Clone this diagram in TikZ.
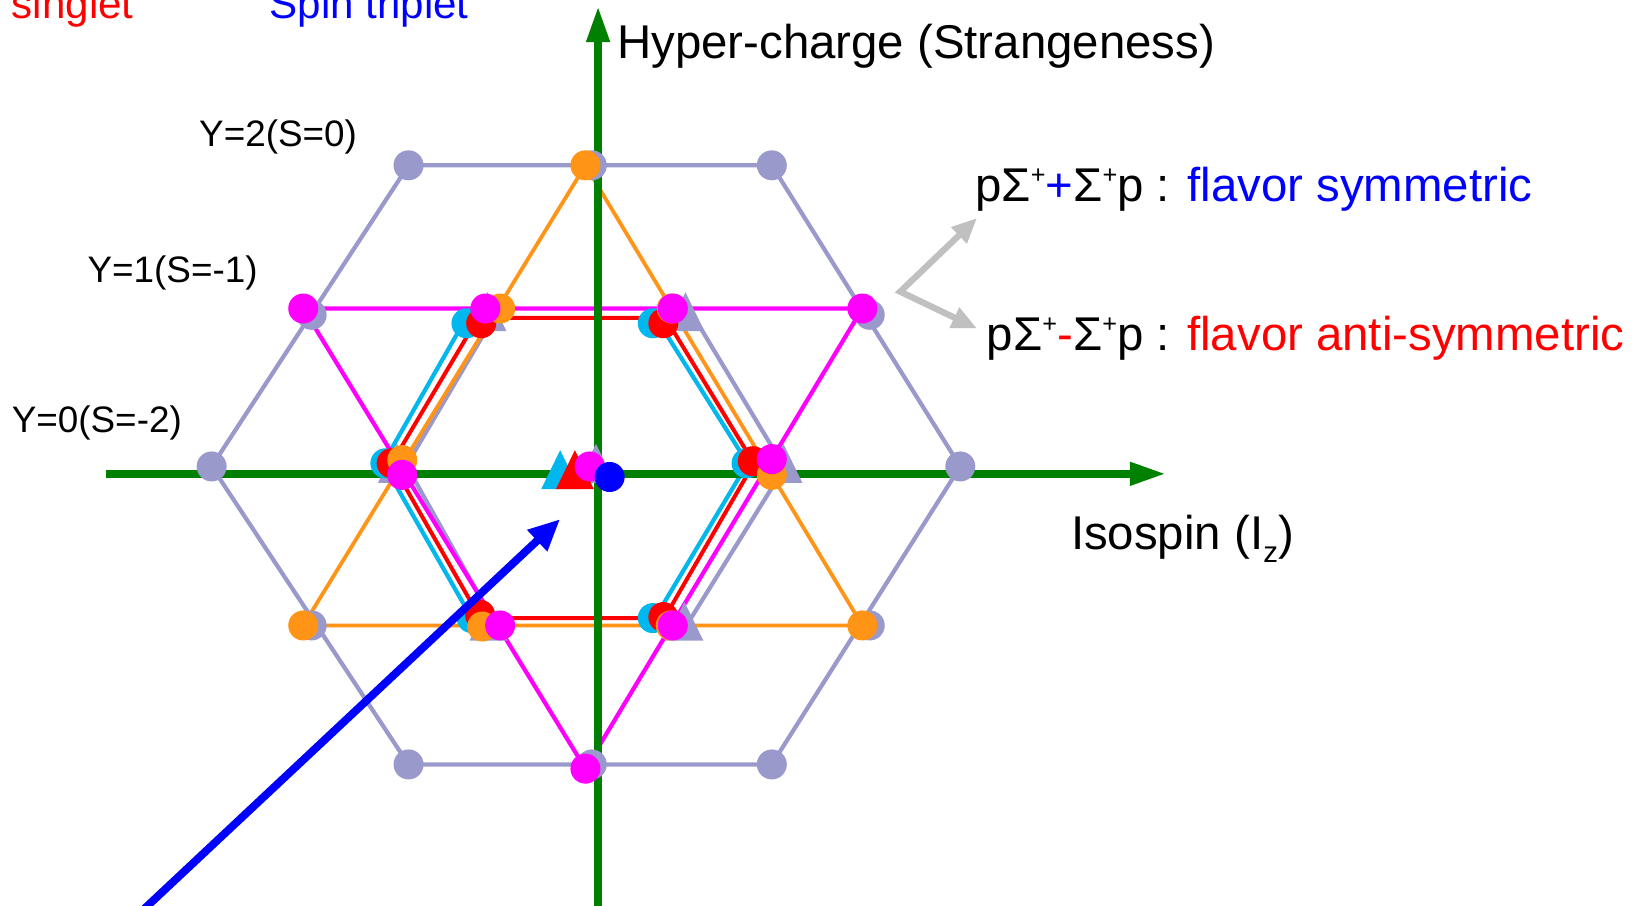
\documentclass[tikz,border=0pt]{standalone}
\usepackage{fontspec}
\setmainfont{Liberation Sans}
\usetikzlibrary{arrows.meta}
\definecolor{lav}{RGB}{153,153,204}
\definecolor{org}{RGB}{255,148,22}
\definecolor{mag}{RGB}{255,0,255}
\definecolor{cyn}{RGB}{0,183,238}
\definecolor{grn}{RGB}{0,128,0}
\definecolor{lgr}{RGB}{192,192,192}
\newcommand\fH{\fontsize{45}{54}\selectfont}
\newcommand\fL{\fontsize{40}{48}\selectfont}
\newcommand\fY{\fontsize{35}{42}\selectfont}
\newcommand\supplus{\raisebox{17pt}{\fontsize{24}{24}\selectfont +}}
\tikzset{
  dot/.style={circle, fill=#1, draw=none, inner sep=0pt, minimum size=28.5pt},
  tri/.pic={\path[pic actions] (0,-18.5) -- (18,18.5) -- (-18,18.5) -- cycle;},
  lattice/.style={line width=#1, line join=round},
  lbl/.style={anchor=base west, inner sep=0pt},
}
\begin{document}
\begin{tikzpicture}[x=1pt,y=-1pt]
\useasboundingbox (0,0) rectangle (1568,860);
% ---------- coordinates ----------
% grey outer
\coordinate (g1) at (388,157); \coordinate (g2) at (562,157); \coordinate (g3) at (733,157);
\coordinate (g4) at (296,299); \coordinate (g5) at (826,299);
\coordinate (g6) at (201,443); \coordinate (g7) at (912,443);
\coordinate (g8) at (296,594); \coordinate (g9) at (826,594);
\coordinate (g10) at (388,726); \coordinate (g11) at (562,726); \coordinate (g12) at (733,726);
% grey inner line corners
\coordinate (gl1) at (472,296); \coordinate (gl2) at (386,442); \coordinate (gl3) at (470,592);
\coordinate (gl4) at (656,296); \coordinate (gl5) at (745,444); \coordinate (gl6) at (652,594);
% cyan line corners
\coordinate (cA) at (441,305); \coordinate (cF) at (364,440); \coordinate (cE) at (448,587);
\coordinate (cB) at (625,305); \coordinate (cC) at (710,440); \coordinate (cD) at (622,587);
% red line corners
\coordinate (rA) at (454,302); \coordinate (rB) at (632,302); \coordinate (rC) at (716,440);
\coordinate (rD) at (631,587); \coordinate (rE) at (456,587); \coordinate (rF) at (372,440);
% orange triangle
\coordinate (o1) at (556,157); \coordinate (o6) at (288,594); \coordinate (o9) at (819,594);
% magenta triangle
\coordinate (m1) at (288,293); \coordinate (m4) at (819,293); \coordinate (m10) at (556,730);
% axes
\coordinate (vb) at (568,870); \coordinate (vt) at (568,6);
\coordinate (hl) at (101,450); \coordinate (hr) at (1107,450);
% arrows
\coordinate (corner) at (855,277); \coordinate (tipU) at (928,207); \coordinate (tipD) at (928,312);
\coordinate (bS) at (134,866); \coordinate (bT) at (532,493);

% ---------- lines ----------
\draw[lav, lattice=4pt] (g1) -- (g3) -- (g7) -- (g12) -- (g10) -- (g6) -- cycle;
\draw[lav, lattice=4pt] (gl1) -- (gl2) -- (gl3);
\draw[lav, lattice=4pt] (gl4) -- (gl5) -- (gl6);
\draw[cyn, lattice=4pt] (cA) -- (cF) -- (cE);
\draw[cyn, lattice=4pt] (cB) -- (cC) -- (cD);
\draw[red, lattice=3.8pt] (rA) -- (rB) -- (rC) -- (rD) -- (rE) -- (rF) -- cycle;
\draw[org, lattice=3.6pt] (o1) -- (o6) -- (o9) -- cycle;
\draw[mag, lattice=4pt] (m1) -- (m4) -- (m10) -- cycle;

% ---------- axes ----------
\draw[grn, line width=7pt, -{Triangle[length=34pt,width=21pt]}] (vb) -- (vt);
\draw[grn, line width=7pt, -{Triangle[length=34pt,width=21pt]}] (hl) -- (hr);

% ---------- markers ----------
% grey
\foreach \n in {1,...,12} {\node[dot=lav] (G\n) at (g\n) {};}
\pic[fill=lav] (GT1) at (463,296) {tri};
\pic[fill=lav] (GT2) at (651,296) {tri};
\pic[fill=lav] (GT3) at (377,440) {tri};
\pic[fill=lav] (GT4) at (566,440) {tri};
\pic[fill=lav] (GT5) at (744,440) {tri};
\pic[fill=lav] (GT6) at (464,590) {tri};
\pic[fill=lav] (GT7) at (650,590) {tri};
% cyan
\node[dot=cyn] (C1) at (443,307) {};
\node[dot=cyn] (C2) at (620,307) {};
\node[dot=cyn] (C3) at (366,440) {};
\node[dot=cyn] (C4) at (709,440) {};
\node[dot=cyn] (C5) at (448,587) {};
\node[dot=cyn] (C6) at (620,587) {};
\pic[fill=cyn] (CT) at (532,446) {tri};
% red
\node[dot=red] (R1) at (457,307) {};
\node[dot=red] (R2) at (630,307) {};
\node[dot=red] (R3) at (372,440) {};
\node[dot=red] (R4) at (715,438) {};
\node[dot=red] (R5) at (456,584) {};
\node[dot=red] (R6) at (630,586) {};
\pic[fill=red] (RT) at (546,446) {tri};
% orange
\node[dot=org] (O1) at (556,157) {};
\node[dot=org] (O2) at (475,293) {};
\node[dot=org] (O3) at (638,293) {};
\node[dot=org] (O4) at (382,437) {};
\node[dot=org] (O5) at (733,451) {};
\node[dot=org] (O6) at (288,594) {};
\node[dot=org] (O7) at (458,595) {};
\node[dot=org] (O8) at (637,594) {};
\node[dot=org] (O9) at (819,594) {};
% magenta
\node[dot=mag] (M1) at (288,293) {};
\node[dot=mag] (M2) at (461,293) {};
\node[dot=mag] (M3) at (639,293) {};
\node[dot=mag] (M4) at (819,293) {};
\node[dot=mag] (M5) at (382,451) {};
\node[dot=mag] (M6) at (560,443) {};
\node[dot=mag] (M7) at (733,436) {};
\node[dot=mag] (M8) at (475,594) {};
\node[dot=mag] (M9) at (639,594) {};
\node[dot=mag] (M10) at (556,730) {};
% blue singlet
\node[dot=blue] (B) at (579,453) {};

% ---------- arrows ----------
\draw[lgr, line width=6pt, line join=miter,
      {Triangle[length=24pt,width=20pt]}-{Triangle[length=24pt,width=20pt]}]
      (tipU) -- (corner) -- (tipD);
\draw[blue, line width=7.5pt, -{Triangle[length=30pt,width=26pt]}] (bS) -- (bT);

% ---------- texts ----------
\node[lbl, font=\fL, text=red]  (singlet) at (11,18) {singlet};
\node[lbl, font=\fL, text=blue] (spin) at (256,18) {Spin triplet};
\node[lbl, font=\fH] (hyper) at (586,56) {Hyper-charge (Strangeness)};
\node[lbl, font=\fY] (y2) at (189,139) {Y=2(S=0)};
\node[lbl, font=\fY] (y1) at (83,268) {Y=1(S=-1)};
\node[lbl, font=\fY] (y0) at (11,411) {Y=0(S=-2)};
\node[lbl, font=\fH] (iso) at (1017,522) {Isospin (I\raisebox{-12pt}{\fontsize{28}{28}\selectfont z})};
\node[lbl, font=\fH] (sym) at (926,191) {pΣ\supplus\textcolor{blue}{+}Σ\supplus p : \textcolor{blue}{flavor symmetric}};
\node[lbl, font=\fH] (anti) at (937,333) {pΣ\supplus\textcolor{red}{-}Σ\supplus p : \textcolor{red}{flavor anti-symmetric}};
\end{tikzpicture}
\end{document}
